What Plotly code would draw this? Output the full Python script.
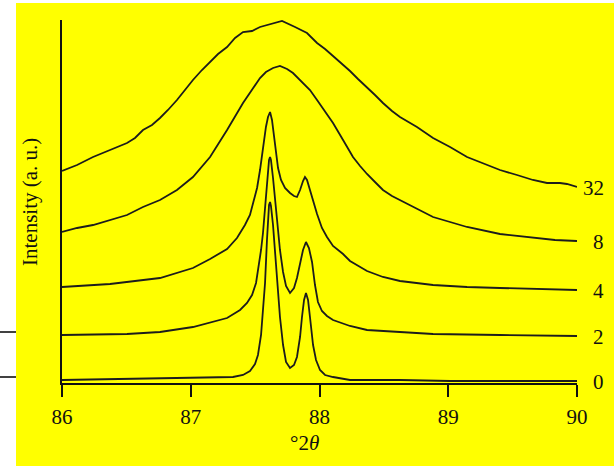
import plotly.graph_objects as go

# Diffraction profiles (°2θ vs stacked intensity, a.u.) for each sample label
two_theta_32 = [86.000, 86.062, 86.117, 86.241, 86.373, 86.505, 86.567, 86.629, 86.699, 86.761,
                86.823, 86.893, 86.955, 87.017, 87.087, 87.150, 87.212, 87.282, 87.344, 87.406,
                87.476, 87.538, 87.616, 87.709, 87.810, 87.903, 87.981, 88.043, 88.105, 88.167,
                88.237, 88.299, 88.369, 88.431, 88.493, 88.563, 88.625, 88.757, 88.882, 89.014,
                89.146, 89.270, 89.402, 89.534, 89.658, 89.767, 89.868, 89.922, 90.000]
intensity_32 = [212, 215, 218, 226, 233, 240, 245, 253, 258, 265,
                273, 283, 293, 303, 313, 321, 329, 336, 345, 351,
                352, 356, 359, 362, 356, 350, 340, 334, 327, 320,
                312, 304, 296, 288, 280, 272, 266, 256, 245, 236,
                226, 220, 213, 208, 203, 200, 200, 199, 196]

two_theta_8 = [86.000, 86.117, 86.241, 86.373, 86.505, 86.629, 86.761, 86.893, 87.017, 87.150,
               87.282, 87.406, 87.476, 87.538, 87.584, 87.639, 87.693, 87.748, 87.794, 87.849,
               87.926, 87.981, 88.043, 88.105, 88.183, 88.260, 88.315, 88.369, 88.431, 88.493,
               88.563, 88.625, 88.757, 88.882, 89.014, 89.146, 89.402, 89.658, 89.829, 90.000]
intensity_8 = [151, 155, 158, 163, 168, 176, 183, 193, 206, 226,
               253, 280, 293, 305, 311, 315, 317, 314, 310, 303,
               293, 283, 271, 260, 243, 226, 217, 209, 201, 193,
               187, 183, 174, 166, 161, 156, 149, 145, 143, 142]

two_theta_4 = [86.000, 86.373, 86.761, 87.017, 87.150, 87.282, 87.359, 87.421, 87.460, 87.491,
               87.515, 87.538, 87.553, 87.569, 87.584, 87.600, 87.616, 87.631, 87.647, 87.662,
               87.678, 87.701, 87.732, 87.771, 87.802, 87.825, 87.849, 87.872, 87.887, 87.903,
               87.926, 87.950, 87.981, 88.019, 88.058, 88.105, 88.183, 88.237, 88.369, 88.493,
               88.625, 88.882, 89.146, 89.402, 90.000]
intensity_4 = [96, 99, 105, 115, 124, 134, 145, 158, 168, 183,
               195, 213, 228, 243, 256, 266, 271, 263, 245, 228,
               215, 203, 195, 190, 187, 186, 193, 202, 206, 203,
               193, 182, 169, 155, 146, 137, 129, 122, 112, 106,
               102, 98, 96, 95, 93]

two_theta_2 = [86.000, 86.505, 86.761, 87.017, 87.282, 87.383, 87.437, 87.476, 87.507, 87.530,
               87.546, 87.561, 87.577, 87.592, 87.600, 87.608, 87.616, 87.623, 87.639, 87.654,
               87.678, 87.693, 87.717, 87.740, 87.771, 87.802, 87.825, 87.849, 87.872, 87.895,
               87.918, 87.942, 87.965, 87.988, 88.019, 88.058, 88.105, 88.237, 88.369, 88.625,
               88.882, 89.402, 90.000]
intensity_2 = [48, 49, 51, 56, 65, 73, 80, 88, 100, 118,
               133, 150, 178, 205, 215, 223, 226, 223, 205, 183,
               148, 133, 111, 97, 90, 95, 105, 118, 133, 141,
               135, 121, 98, 81, 72, 67, 63, 57, 53, 51,
               49, 48, 47]

two_theta_0 = [86.000, 87.017, 87.328, 87.406, 87.460, 87.499, 87.522, 87.546, 87.561, 87.577,
               87.592, 87.600, 87.608, 87.616, 87.623, 87.639, 87.654, 87.678, 87.693, 87.717,
               87.740, 87.771, 87.802, 87.825, 87.849, 87.864, 87.880, 87.895, 87.911, 87.926,
               87.950, 87.973, 88.004, 88.043, 88.105, 88.237, 88.625, 89.014, 90.000]
intensity_0 = [3, 5, 6, 8, 12, 19, 28, 48, 73, 100,
               143, 166, 178, 181, 177, 158, 133, 88, 66, 38,
               21, 15, 18, 26, 46, 66, 83, 90, 83, 66,
               38, 23, 13, 8, 6, 3, 3, 2, 2]

series_labels = ["32", "8", "4", "2", "0"]
x_ticks = [86, 87, 88, 89, 90]

series = [
    (two_theta_32, intensity_32),
    (two_theta_8, intensity_8),
    (two_theta_4, intensity_4),
    (two_theta_2, intensity_2),
    (two_theta_0, intensity_0),
]

SERIF = "Liberation Serif, Times New Roman, serif"
LINE = "#1c1c1c"
TEXT = "#111"
YELLOW = "#FFFF00"
FS = 21

fig = go.Figure()
for (tt, inten), name in zip(series, series_labels):
    fig.add_trace(go.Scatter(x=tt, y=inten, mode="lines", name=name,
                             line=dict(color=LINE, width=1.8),
                             showlegend=False, hoverinfo="skip"))

# Plot geometry in pixels, used to place paper-referenced decorations
W, H = 614, 466
L, R, T, B = 62, 37, 20, 83
PW, PH = W - L - R, H - T - B


def px_x(px):
    return (px - L) / PW


def px_y(py):
    return (H - B - py) / PH


annotations = []
# series labels at the right end of each curve
for (tt, inten), name in zip(series, series_labels):
    annotations.append(dict(text=name, xref="paper", yref="y", x=px_x(606), y=inten[-1] - 1,
                            xanchor="right", yanchor="middle", showarrow=False,
                            font=dict(family=SERIF, size=FS, color=TEXT)))

annotations.append(dict(text="Intensity (a. u.)", textangle=-90, xref="paper", yref="paper",
                        x=px_x(30), y=px_y(202), xanchor="center", yanchor="middle",
                        showarrow=False, font=dict(family=SERIF, size=FS, color=TEXT)))
annotations.append(dict(text="°2<i>θ</i>", xref="paper", yref="paper",
                        x=px_x(304), y=px_y(443), xanchor="center", yanchor="middle",
                        showarrow=False, font=dict(family=SERIF, size=FS, color=TEXT)))

shapes = [
    # yellow page panel
    dict(type="rect", xref="paper", yref="paper", x0=px_x(16), x1=px_x(W + 2),
         y0=px_y(H + 2), y1=px_y(3), fillcolor=YELLOW, line=dict(width=0), layer="below"),
    # short rules on the white margin
    dict(type="line", xref="paper", yref="y", x0=px_x(0), x1=px_x(16), y0=51, y1=51,
         line=dict(color=TEXT, width=1.6)),
    dict(type="line", xref="paper", yref="y", x0=px_x(0), x1=px_x(16), y0=6, y1=6,
         line=dict(color=TEXT, width=1.6)),
]

fig.update_layout(
    width=W, height=H, autosize=False,
    margin=dict(l=L, r=R, t=T, b=B, pad=0),
    paper_bgcolor="white", plot_bgcolor=YELLOW,
    showlegend=False,
    annotations=annotations, shapes=shapes,
    xaxis=dict(range=[86, 90], tickvals=x_ticks, ticktext=[str(v) for v in x_ticks],
               ticks="outside", ticklen=12, tickwidth=1.5, tickcolor=TEXT,
               ticklabelstandoff=2,
               showline=True, linecolor=TEXT, linewidth=2, showgrid=False, zeroline=False,
               tickfont=dict(family=SERIF, size=FS, color=TEXT)),
    yaxis=dict(range=[0, 363], showline=True, linecolor=TEXT, linewidth=2,
               showticklabels=False, ticks="", showgrid=False, zeroline=False),
)

fig.write_html("out.html")
